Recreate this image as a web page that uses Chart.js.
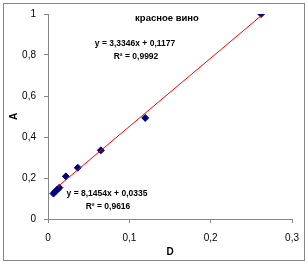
<!DOCTYPE html>
<html>
<head>
<meta charset="utf-8">
<script src="https://cdn.jsdelivr.net/npm/chart.js@4/dist/chart.umd.min.js"></script>
<style>
  html, body { margin: 0; padding: 0; background: #fff; }
  #wrap { width: 308px; height: 264px; }
</style>
</head>
<body>
<div id="wrap"><canvas id="chart" width="308" height="264"></canvas></div>
<script>
// values
const dValues = [0.0067, 0.0091, 0.0116, 0.014, 0.022, 0.0366, 0.065, 0.1195, 0.262];
const aValues = [0.124, 0.134, 0.144, 0.153, 0.208, 0.250, 0.335, 0.493, 1.0];

const xTicks = [0, 0.1, 0.2, 0.3];
const yTicks = [0, 0.2, 0.4, 0.6, 0.8, 1];

const chartTitle = 'красное вино';
const xTitle = 'D';
const yTitle = 'A';

// main trend line y = slope*x + intercept, drawn over this x range
const trendSlope = 3.3346;
const trendIntercept = 0.1177;
const trendRange = [0.0122, 0.262];

const eqLines = ['y = 3,3346x + 0,1177', 'R² = 0,9992'];
const eqLines2 = ['y = 8,1454x + 0,0335', 'R² = 0,9616'];

const comma = v => String(Math.round(v * 10) / 10).replace('.', ',');

const trendPoints = trendRange.map(x => ({ x: x, y: trendSlope * x + trendIntercept }));

const labelsPlugin = {
  id: 'labels',
  beforeDraw(chart) {
    const ctx = chart.ctx;
    ctx.save();
    ctx.fillStyle = '#fff';
    ctx.fillRect(0, 0, chart.width, chart.height);
    ctx.strokeStyle = '#868686';
    ctx.lineWidth = 1;
    ctx.strokeRect(3.5, 3.5, 301, 257);
    ctx.restore();
  },
  afterDraw(chart) {
    const ctx = chart.ctx;
    ctx.save();
    ctx.fillStyle = '#000';
    ctx.textAlign = 'center';
    ctx.textBaseline = 'middle';
    ctx.font = 'bold 9.5px "Liberation Sans", Arial, sans-serif';
    ctx.fillText(chartTitle, 167, 18);
    ctx.font = 'bold 8.5px "Liberation Sans", Arial, sans-serif';
    ctx.fillText(eqLines[0], 135, 44);
    ctx.fillText(eqLines[1], 136, 57);
    ctx.fillText(eqLines2[0], 107, 194);
    ctx.fillText(eqLines2[1], 108, 207);
    ctx.restore();
  }
};

new Chart(document.getElementById('chart'), {
  type: 'scatter',
  data: {
    datasets: [
      {
        type: 'line',
        data: trendPoints,
        borderColor: '#ff0000',
        borderWidth: 1,
        pointRadius: 0,
        fill: false
      },
      {
        data: dValues.map((d, i) => ({ x: d, y: aValues[i] })),
        backgroundColor: '#000080',
        borderColor: '#000080',
        pointStyle: 'rectRot',
        pointRadius: 3.5,
        borderWidth: 1
      }
    ]
  },
  options: {
    responsive: false,
    animation: false,
    layout: { padding: { left: 4, right: 14, top: 10, bottom: 4 } },
    plugins: {
      legend: { display: false },
      tooltip: { enabled: false }
    },
    scales: {
      x: {
        type: 'linear',
        min: 0,
        max: 0.3,
        afterFit: s => { s.height = 41; },
        afterBuildTicks: s => { s.ticks = xTicks.map(v => ({ value: v })); },
        ticks: {
          callback: v => comma(v),
          color: '#000',
          padding: 9,
          font: { size: 10, family: '"Liberation Sans", Arial, sans-serif' }
        },
        grid: { drawOnChartArea: false, drawTicks: true, tickLength: 4, color: '#868686' },
        border: { display: true, color: '#868686' },
        title: {
          display: true,
          text: xTitle,
          color: '#000',
          padding: { top: 0, bottom: 2 },
          font: { size: 10, weight: 'bold', family: '"Liberation Sans", Arial, sans-serif' }
        }
      },
      y: {
        min: 0,
        max: 1,
        afterFit: s => { s.width = 44; },
        afterBuildTicks: s => { s.ticks = yTicks.map(v => ({ value: v })); },
        ticks: {
          callback: v => comma(v),
          color: '#000',
          padding: 8,
          font: { size: 10, family: '"Liberation Sans", Arial, sans-serif' }
        },
        grid: { drawOnChartArea: false, drawTicks: true, tickLength: 4, color: '#868686' },
        border: { display: true, color: '#868686' },
        title: {
          display: true,
          text: yTitle,
          color: '#000',
          padding: { top: 4, bottom: 0 },
          font: { size: 10, weight: 'bold', family: '"Liberation Sans", Arial, sans-serif' }
        }
      }
    }
  },
  plugins: [labelsPlugin]
});
</script>
</body>
</html>
